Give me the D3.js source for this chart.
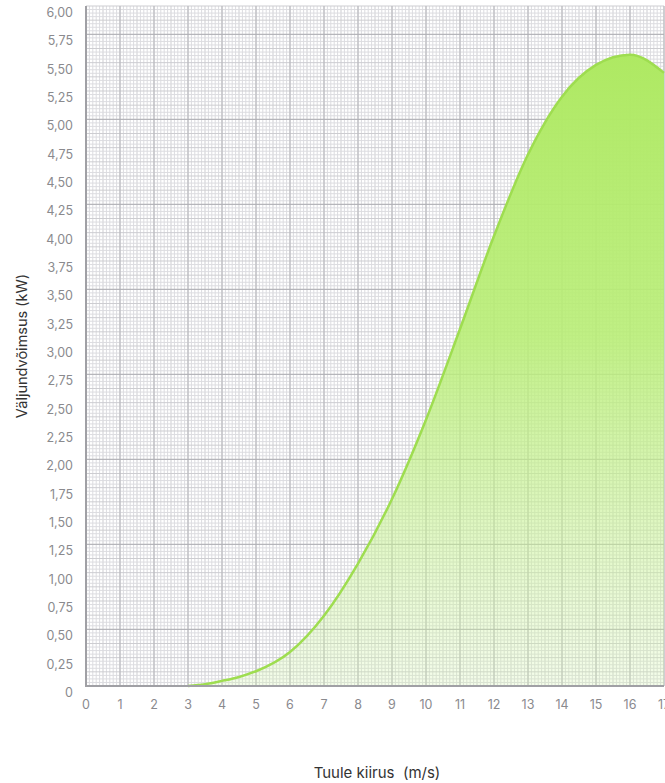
<!DOCTYPE html>
<html lang="et">
<head>
    <meta charset="UTF-8">
    <script src="https://d3js.org/d3.v7.min.js" charset="utf-8"></script>
    <title>Tuule kiirus ja väljundvõimsus</title>
    <style>
        body { margin: 0; background: #fff; }
        svg { display: block; font-family: Inter, "Noto Sans", sans-serif; }
    </style>
</head>
<body>
    <div id="chart"></div>
    <script>
        // wind speed (m/s) and output power (kW)
        const windSpeed = [3, 3.5, 4, 4.5, 5, 6, 7, 8, 9, 10, 11, 12, 13, 14, 15, 16, 17];
        const power = [0, 0.015, 0.045, 0.08, 0.13, 0.30, 0.62, 1.08, 1.65, 2.35, 3.15, 3.97, 4.69, 5.20, 5.48, 5.57, 5.41];

        const xTicks = d3.range(0, 18);
        const yTicks = d3.range(0, 6.01, 0.25);
        const yTickLabels = yTicks.map(v => v === 0 ? "0" : v.toFixed(2).replace(".", ","));

        const width = 665, height = 783;
        const margin = {top: 6, right: 1, bottom: 97, left: 86};

        const svg = d3.select("#chart").append("svg")
            .attr("width", width)
            .attr("height", height);

        const x = d3.scaleLinear().domain([0, 17]).range([margin.left, width - margin.right]);
        const y = d3.scaleLinear().domain([0, 6]).range([height - margin.bottom, margin.top]);

        // graph paper grid
        const grid = svg.append("g");
        const x0 = x(0), x1 = x(17), y0 = y(0), y1 = y(6);

        // fine lines
        grid.selectAll(".fx").data(d3.range(0, 171).map(i => i / 10)).join("line")
            .attr("x1", d => x(d)).attr("x2", d => x(d))
            .attr("y1", y1).attr("y2", y0)
            .attr("stroke", d => Math.round(d * 10) % 5 === 0 ? "#cdcdd1" : "#dcdce0")
            .attr("stroke-width", 1);
        grid.selectAll(".fy").data(d3.range(0, 193).map(i => i / 32)).join("line")
            .attr("x1", x0).attr("x2", x1)
            .attr("y1", d => y(d)).attr("y2", d => y(d))
            .attr("stroke", d => Math.round(d * 32) % 4 === 0 ? "#cdcdd1" : "#dcdce0")
            .attr("stroke-width", 1);

        // major lines
        grid.selectAll(".mx").data(xTicks.slice(1)).join("line")
            .attr("x1", d => x(d)).attr("x2", d => x(d))
            .attr("y1", y1).attr("y2", y0)
            .attr("stroke", "#b6b6bb")
            .attr("stroke-width", 1);
        grid.selectAll(".my").data(d3.range(0.5, 6, 0.75)).join("line")
            .attr("x1", x0).attr("x2", x1)
            .attr("y1", d => y(d)).attr("y2", d => y(d))
            .attr("stroke", "#b0b0b5")
            .attr("stroke-width", 1);

        // gradient fill
        const defs = svg.append("defs");
        const grad = defs.append("linearGradient")
            .attr("id", "fillGrad")
            .attr("gradientUnits", "userSpaceOnUse")
            .attr("x1", 0).attr("x2", 0)
            .attr("y1", y(5.6)).attr("y2", y(0));
        grad.append("stop").attr("offset", "0%").attr("stop-color", "#aee962").attr("stop-opacity", 1);
        grad.append("stop").attr("offset", "45%").attr("stop-color", "#b9ee77").attr("stop-opacity", 0.9);
        grad.append("stop").attr("offset", "75%").attr("stop-color", "#c6f191").attr("stop-opacity", 0.55);
        grad.append("stop").attr("offset", "100%").attr("stop-color", "#d2f5aa").attr("stop-opacity", 0.25);

        const pts = windSpeed.map((d, i) => [d, power[i]]);

        const area = d3.area()
            .x(d => x(d[0]))
            .y0(y(0))
            .y1(d => y(d[1]))
            .curve(d3.curveMonotoneX);

        const line = d3.line()
            .x(d => x(d[0]))
            .y(d => y(d[1]))
            .curve(d3.curveMonotoneX);

        svg.append("path")
            .datum(pts)
            .attr("d", area)
            .attr("fill", "url(#fillGrad)");

        svg.append("path")
            .datum(pts)
            .attr("d", line)
            .attr("fill", "none")
            .attr("stroke", "#9edd50")
            .attr("stroke-width", 2.5);

        // left and bottom border
        svg.append("line")
            .attr("x1", x0).attr("x2", x0).attr("y1", y1).attr("y2", y0 + 1)
            .attr("stroke", "#a0a0a5").attr("stroke-width", 2);
        svg.append("line")
            .attr("x1", x0).attr("x2", x1).attr("y1", y0).attr("y2", y0)
            .attr("stroke", "#a0a0a5").attr("stroke-width", 2);

        // tick labels
        svg.append("g").selectAll("text").data(yTicks).join("text")
            .attr("x", 73)
            .attr("y", d => y(d) + 11)
            .attr("text-anchor", "end")
            .attr("font-size", 12.5)
            .attr("fill", "#8a8a8e")
            .text((d, i) => yTickLabels[i]);

        svg.append("g").selectAll("text").data(xTicks).join("text")
            .attr("x", d => x(d))
            .attr("y", y(0) + 23)
            .attr("text-anchor", "middle")
            .attr("font-size", 12.5)
            .attr("fill", "#8a8a8e")
            .text(d => d);

        // axis titles
        svg.append("text")
            .attr("transform", `translate(27, ${(y0 + y1) / 2}) rotate(-90)`)
            .attr("text-anchor", "middle")
            .attr("font-size", 14.5)
            .attr("fill", "#333")
            .text("Väljundvõimsus (kW)");

        svg.append("text")
            .attr("x", 377)
            .attr("y", 778)
            .attr("text-anchor", "middle")
            .attr("font-size", 15)
            .attr("fill", "#333")
            .style("white-space", "pre")
            .text("Tuule kiirus  (m/s)");
    </script>
</body>
</html>
